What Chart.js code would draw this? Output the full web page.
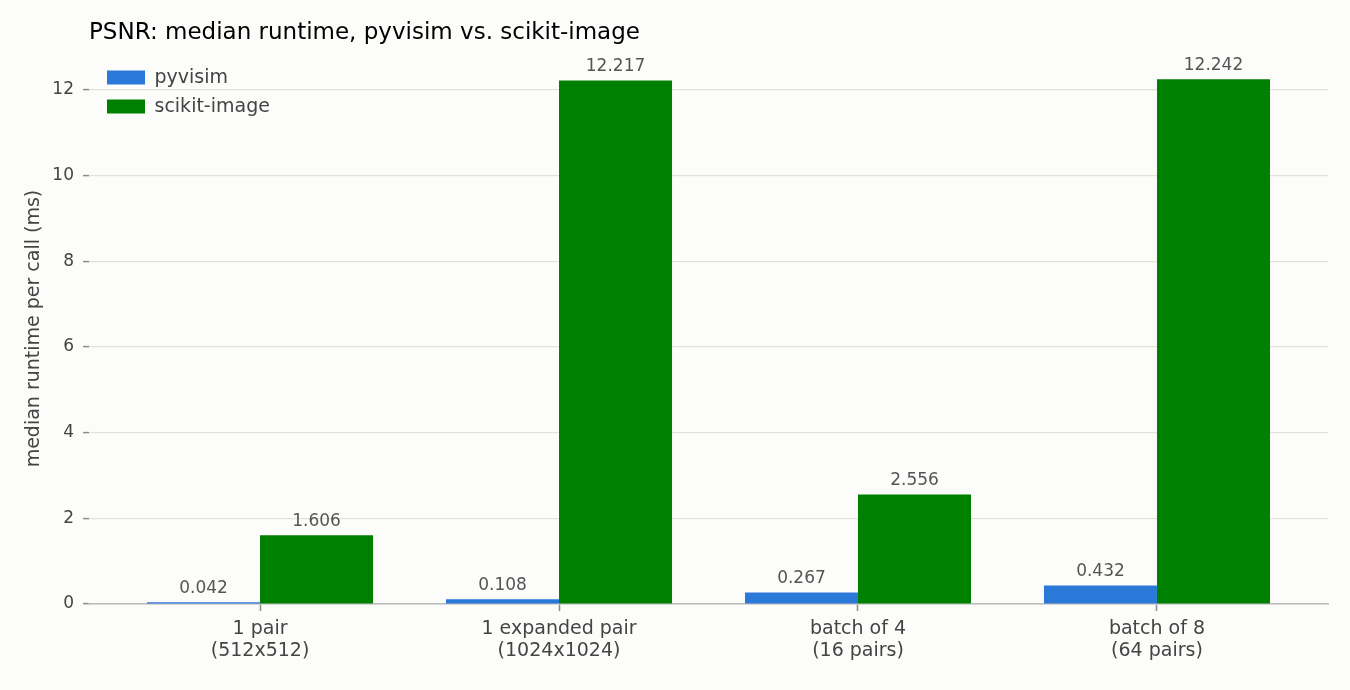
<!DOCTYPE html>
<html>
<head>
<meta charset="utf-8">
<title>PSNR median runtime</title>
<script src="https://cdn.jsdelivr.net/npm/chart.js@4"></script>
<style>
	html, body { margin: 0; padding: 0; background: #fcfcfa; }
	#wrap { width: 1350px; height: 690px; position: relative; }
</style>
</head>
<body>
<div id="wrap"><canvas id="psnrChart"></canvas></div>
<script>
	// chart data
	var categories = ['1 pair', '1 expanded pair', 'batch of 4', 'batch of 8'];
	var sizeLabels = ['(512x512)', '(1024x1024)', '(16 pairs)', '(64 pairs)'];
	var pyvisimMs = [0.042, 0.108, 0.267, 0.432];
	var skimageMs = [1.606, 12.217, 2.556, 12.242];
	var yTicks = [0, 2, 4, 6, 8, 10, 12];

	var FONT = 'DejaVu Sans';

	function toPoints(values) {
		return values.map(function(v, i) { return { x: i, y: v }; });
	}

	// Value labels above each bar
	var barValueLabels = {
		id: 'barValueLabels',
		afterDatasetsDraw: function(chart) {
			var ctx = chart.ctx;
			ctx.save();
			ctx.font = '17px "' + FONT + '"';
			ctx.fillStyle = '#555555';
			ctx.textAlign = 'center';
			ctx.textBaseline = 'bottom';
			chart.data.datasets.forEach(function(ds, di) {
				chart.getDatasetMeta(di).data.forEach(function(bar, i) {
					ctx.fillText(ds.data[i].y.toFixed(3), bar.x, bar.y - 5);
				});
			});
			ctx.restore();
		}
	};

	// the chartArea legend is reset to 0 on update, put it back inside the plot
	var legendNudge = {
		id: 'legendNudge',
		afterLayout: function(chart) {
			if (chart.legend) {
				chart.legend.top = chart.chartArea.top + 5;
				chart.legend.left = chart.chartArea.left + 8;
			}
		}
	};

	new Chart(document.getElementById('psnrChart'), {
		type: 'bar',
		data: {
			datasets: [{
				label: 'pyvisim',
				data: toPoints(pyvisimMs),
				backgroundColor: '#2a78d8',
				barPercentage: 1,
				categoryPercentage: 0.756
			}, {
				label: 'scikit-image',
				data: toPoints(skimageMs),
				backgroundColor: '#008000',
				barPercentage: 1,
				categoryPercentage: 0.756
			}]
		},
		options: {
			responsive: true,
			maintainAspectRatio: false,
			animation: false,
			layout: {
				padding: { left: 0, right: 22, top: 0, bottom: 0 }
			},
			plugins: {
				title: {
					display: true,
					text: 'PSNR: median runtime, pyvisim vs. scikit-image',
					align: 'start',
					fullSize: false,
					color: '#000000',
					font: { family: FONT, size: 23, weight: 'normal' },
					padding: { top: 19.5, bottom: 6 }
				},
				legend: {
					position: 'chartArea',
					align: 'start',
					labels: {
						boxWidth: 38,
						boxHeight: 14,
						padding: 10,
						color: '#444444',
						font: { family: FONT, size: 19 }
					}
				},
				tooltip: { enabled: false }
			},
			scales: {
				x: {
					type: 'linear',
					min: -0.572,
					max: 3.572,
					offset: false,
					afterBuildTicks: function(scale) {
						scale.ticks = categories.map(function(c, i) { return { value: i }; });
					},
					afterFit: function(scale) { scale.height = 86; },
					grid: {
						display: true,
						drawOnChartArea: false,
						drawTicks: true,
						tickLength: 7,
						tickColor: '#8c8c8c',
						tickWidth: 1.5,
						offset: false
					},
					border: { display: true, color: '#bbbbbb', width: 1.5 },
					ticks: {
						autoSkip: false,
						maxRotation: 0,
						padding: 7.5,
						color: '#444444',
						font: { family: FONT, size: 19, lineHeight: 1.16 },
						callback: function(value) {
							return [categories[value], sizeLabels[value]];
						}
					}
				},
				y: {
					min: 0,
					max: 12.854,
					afterBuildTicks: function(scale) {
						scale.ticks = yTicks.map(function(v) { return { value: v }; });
					},
					afterFit: function(scale) { scale.width = 89; },
					grid: {
						color: '#e2e2dc',
						lineWidth: 1.2,
						tickLength: 6,
						tickColor: '#8c8c8c',
						tickWidth: 1.5
					},
					border: { display: false },
					ticks: {
						padding: 9,
						color: '#444444',
						font: { family: FONT, size: 17 }
					},
					title: {
						display: true,
						text: 'median runtime per call (ms)',
						color: '#444444',
						font: { family: FONT, size: 19 },
						padding: { top: 22.6, bottom: 0 }
					}
				}
			}
		},
		plugins: [barValueLabels, legendNudge]
	});
</script>
</body>
</html>
